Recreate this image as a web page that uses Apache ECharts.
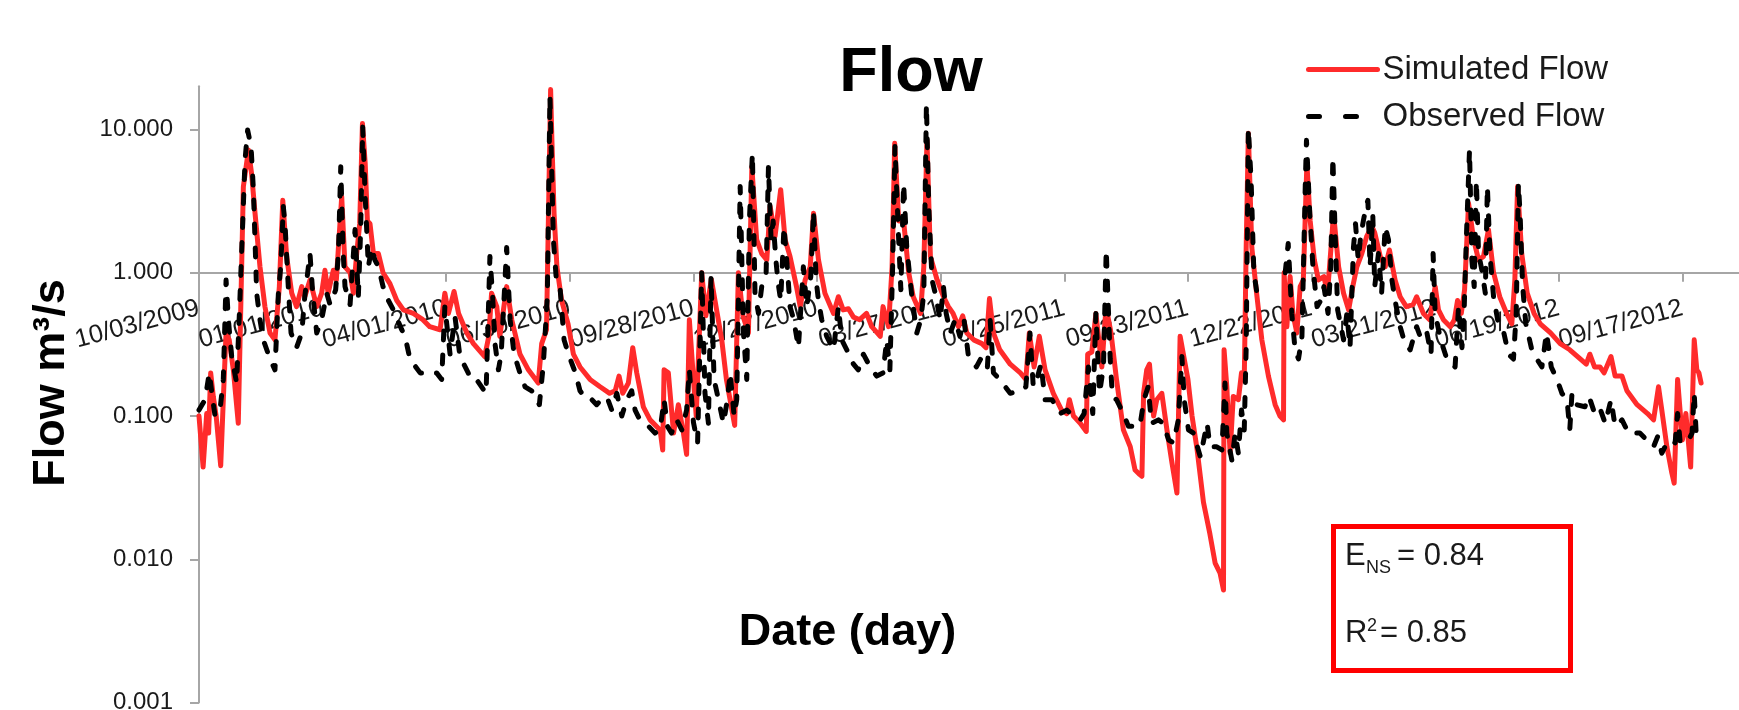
<!DOCTYPE html>
<html><head><meta charset="utf-8">
<script src="https://cdn.jsdelivr.net/npm/echarts@6/dist/echarts.min.js"></script>
<style>html,body{margin:0;padding:0;background:#fff}#c{width:1739px;height:710px}</style>
</head><body><div id="c"></div>
<script>
// x values are days since 10/03/2009
const xTickLabels = ['10/03/2009','01/01/2010','04/01/2010','06/30/2010','09/28/2010','12/27/2010','03/27/2011','06/25/2011','09/23/2011','12/22/2011','03/21/2012','06/19/2012','09/17/2012'];
const yTickValues = [0.001, 0.01, 0.1, 1, 10];

const simulatedFlow = [
[0,0.1],[3,0.044],[5.6,0.104],[7,0.076],[8.5,0.2],[10.4,0.137],[12.5,0.1],[15.8,0.045],[17.7,0.13],[19.7,0.38],
[22,0.34],[25,0.21],[28.6,0.089],[29.9,0.34],[32.3,3.98],[36,7.2],[38.3,4.9],[40.8,2.6],[44.4,1.1],[48,0.58],
[51.7,0.38],[55.3,0.34],[58.5,0.8],[61,3.2],[63.8,1.3],[67.5,0.72],[71,0.58],[74.8,0.8],[77,0.68],[80.8,0.89],
[85.7,0.58],[89.3,0.72],[91.7,1.04],[94,0.72],[97.8,1.04],[100,0.89],[103.9,3.4],[106.3,1.1],[110,1.0],[112.4,0.72],
[114.8,1.36],[117,2.2],[119,11],[121,5.8],[122.6,2.3],[124.5,2.2],[127,1.36],[130.6,1.36],[134,1.0],[139,0.84],
[144,0.64],[148.8,0.55],[156,0.52],[163,0.47],[168,0.42],[175.5,0.40],[179,0.72],[181.6,0.52],[185.7,0.74],[189,0.52],
[195,0.38],[199.8,0.32],[208,0.26],[211,0.36],[213,0.72],[216.8,0.58],[219,0.36],[224,0.8],[227.7,0.47],[233.7,0.27],
[239.8,0.21],[247,0.17],[249.5,0.32],[253,0.4],[256,19],[257,8],[258.5,2.6],[260.6,1.1],[264,0.64],[268.7,0.44],
[272.6,0.27],[277.4,0.22],[284.7,0.18],[292,0.16],[299,0.144],[303,0.15],[305.8,0.19],[308.5,0.144],[312.6,0.17],[315.8,0.3],
[318.7,0.2],[323.5,0.116],[328.4,0.094],[335.7,0.08],[337.6,0.058],[338.6,0.21],[341.7,0.2],[345.5,0.076],[349,0.12],[352.7,0.076],
[355,0.054],[357,0.47],[360,0.18],[362,0.1],[366,1.0],[369,0.5],[373,0.9],[380.6,0.34],[384,0.18],[390,0.086],
[392.7,1.0],[396,0.5],[400,0.38],[402.5,5.5],[406,1.7],[409.7,1.36],[413.4,1.23],[415.8,2.9],[419.4,1.8],[423.5,3.8],
[426.7,1.7],[430.3,1.3],[435,0.8],[437.7,0.58],[441.3,0.89],[445,1.1],[447.4,2.6],[451,1.23],[455.7,0.72],[462,0.52],
[465.5,0.68],[469,0.55],[472.8,0.56],[476.5,0.49],[481,0.47],[486,0.52],[489.8,0.42],[496,0.36],[498,0.58],[502,0.42],
[504.6,1.1],[506.5,8.0],[509.4,2.3],[513,2.3],[516.7,1.0],[520,0.68],[525.3,0.52],[527.7,1.1],[530,8.4],[532.5,1.3],
[537.4,0.89],[542,0.68],[545.6,0.58],[549,0.52],[553,0.42],[556,0.5],[559,0.38],[564,0.34],[570,0.32],[573,0.3],
[575.5,0.66],[578.4,0.38],[583,0.29],[590.6,0.23],[598,0.2],[602,0.18],[604.5,0.38],[608,0.22],[611.8,0.36],[616,0.21],
[622,0.144],[628,0.11],[631.8,0.104],[633.7,0.13],[636.7,0.1],[641.6,0.089],[646,0.078],[647,0.27],[650,0.28],[653,0.52],
[657.3,0.22],[660.4,0.58],[664,0.38],[668,0.18],[673,0.08],[678,0.061],[681.5,0.042],[685,0.039],[686.5,0.038],[687.7,0.144],
[690,0.21],[692,0.23],[695,0.1],[697.3,0.13],[701,0.144],[704.7,0.08],[708.4,0.047],[712,0.029],[714.3,0.36],[717.3,0.25],
[720,0.18],[723,0.1],[726.5,0.06],[731.3,0.025],[736,0.015],[739.8,0.0094],[743.4,0.008],[745.9,0.0061],[746.3,0.29],[748.3,0.16],
[750.7,0.055],[753,0.137],[756.7,0.13],[759,0.2],[761,0.18],[762.4,1.5],[764,9.4],[766.5,1.5],[770,0.72],[773.8,0.34],
[778.6,0.19],[783.5,0.12],[787,0.1],[789.6,0.094],[790,1.0],[792,0.42],[794.4,0.94],[796.4,0.52],[799.3,0.38],[801.7,0.8],
[804,0.89],[806.6,5.8],[809,2.3],[812,1.23],[815,0.89],[819,0.94],[821.6,0.72],[825,1.9],[826,2.6],[829.7,1.1],
[833.3,0.72],[837,0.55],[840,0.8],[843,1.1],[846.6,1.36],[850.2,1.8],[854,2.1],[856,1.9],[860,1.3],[863.6,1.1],
[866.7,1.44],[870.8,0.89],[874.5,0.68],[879,0.58],[884,0.6],[886.5,0.68],[891.4,0.52],[896,0.47],[900,0.8],[902.4,0.55],
[906,0.47],[911,0.42],[914,0.47],[916.3,0.64],[919,0.52],[921.4,0.76],[924.3,3.05],[928,1.7],[931.6,1.23],[935.2,1.3],
[938.8,2.0],[942.5,1.0],[947,0.68],[952,0.52],[955.8,0.44],[958,0.89],[960,4.0],[963,1.36],[967,0.72],[972,0.52],
[976.5,0.44],[984,0.38],[991,0.32],[998,0.29],[1005.6,0.25],[1010,0.23],[1012.6,0.27],[1016,0.22],[1020,0.22],[1023,0.2],
[1028,0.26],[1031,0.19],[1036,0.19],[1039.6,0.15],[1047,0.12],[1054.6,0.104],[1059,0.094],[1062.6,0.16],[1065,0.11],[1068.7,0.061],
[1072.3,0.04],[1074,0.034],[1076.5,0.18],[1080,0.068],[1082.5,0.104],[1086,0.044],[1087,0.1],[1088.6,0.34],[1090.5,0.21],[1092,0.2],
[1093.6,0.17]
];

const observedFlow = [
[0,0.11],[4.4,0.13],[7.5,0.2],[10,0.13],[11.7,0.1],[15.3,0.11],[17.7,0.18],[19.7,0.89],[21.4,0.47],[23.8,0.26],
[27.4,0.17],[29.4,0.52],[31,1.36],[33.5,6.1],[35.4,9.9],[37.9,7.6],[39.6,3.8],[42,0.72],[44.4,0.47],[46.8,0.34],
[51.7,0.25],[55.3,0.21],[57.8,0.72],[59.5,1.1],[61.4,2.9],[62.6,2.2],[65,0.8],[67,0.38],[71,0.3],[74.8,0.38],
[77,0.68],[80.8,1.36],[82.8,0.72],[85.7,0.38],[89.3,0.47],[93,0.72],[95.4,0.6],[99.5,0.76],[101.5,1.36],[103.2,5.5],
[105,1.36],[106.3,0.8],[110,0.6],[113.6,2.0],[116,0.68],[117.7,2.0],[119.2,10.4],[121,3.4],[123.3,1.1],[125.7,1.5],
[128,1.23],[130.6,1.1],[134,0.8],[137.9,0.64],[141.5,0.55],[147.6,0.4],[150,0.36],[153.6,0.25],[161,0.2],[167,0.2],
[173,0.2],[176.7,0.18],[179,0.58],[182.8,0.27],[186.4,0.49],[190,0.26],[196,0.2],[198,0.18],[202,0.18],[209,0.144],
[211.8,1.3],[213.8,0.68],[215.5,0.32],[218,0.21],[220,0.27],[224,1.5],[226.5,0.47],[229.4,0.27],[233.7,0.2],[237.4,0.16],
[242.2,0.15],[247.8,0.12],[250.7,0.23],[253.6,0.68],[255.5,17],[258,1.7],[260,0.94],[262.8,0.8],[265.8,0.34],[269,0.27],
[274,0.2],[277.4,0.15],[282,0.13],[286,0.13],[289.5,0.12],[293,0.13],[297,0.136],[300.5,0.11],[304.2,0.144],[307.8,0.1],
[311.4,0.13],[315,0.15],[317.5,0.11],[321,0.094],[327.2,0.085],[332,0.076],[335.7,0.08],[338.6,0.13],[341,0.085],[344,0.076],
[347.8,0.094],[351.5,0.08],[355,0.11],[357,0.21],[360,0.09],[363,0.065],[366,1.0],[368.4,0.144],[370.9,0.089],[372.8,0.94],
[375,0.18],[378.2,0.13],[381.8,0.089],[384.7,0.13],[386.7,0.2],[389.6,0.1],[391.5,0.13],[394,4.0],[396.4,0.38],[398.8,0.18],
[400.7,2.3],[402.9,6.8],[404.8,0.72],[407.3,0.52],[409.7,0.8],[412.9,1.0],[414.6,5.5],[416.5,1.7],[418,2.3],[420,1.23],
[421.7,0.84],[423.5,0.64],[425.9,2.1],[428.3,1.1],[430.3,0.58],[433,0.47],[436.4,0.3],[440,1.1],[442.5,0.58],[445.4,0.94],
[447.4,2.7],[449.3,0.89],[451,0.64],[453.4,0.47],[457,0.36],[462,0.29],[465.5,0.58],[468,0.34],[471.6,0.29],[476.5,0.23],
[480,0.21],[483.7,0.27],[488.6,0.22],[493.4,0.19],[498,0.2],[500.7,0.34],[503,0.21],[505,1.1],[506.7,7.6],[509.4,1.7],
[511,0.76],[513,4.2],[515.3,1.5],[519,0.68],[522.6,0.38],[525.5,0.47],[527.7,0.72],[529.6,15],[531.3,2.9],[533.7,0.89],
[536,0.72],[539.6,0.47],[542,0.8],[544,0.52],[547,0.38],[550.5,0.47],[554,0.36],[557,0.47],[560,0.27],[566,0.22],
[570,0.26],[574,0.22],[576,0.47],[578.4,0.2],[583,0.18],[590.6,0.144],[598,0.15],[602,0.16],[605,0.38],[607.4,0.16],
[610,0.18],[613,0.23],[616,0.13],[621,0.13],[627,0.104],[631.8,0.11],[636.7,0.1],[641.6,0.094],[644.4,0.104],[647.5,0.22],
[650.7,0.104],[653,0.52],[655.6,0.144],[658.5,0.22],[660.5,1.45],[663.4,0.25],[665,0.137],[668,0.13],[673,0.104],[676.6,0.085],
[685,0.085],[688,0.13],[691,0.16],[693.5,0.089],[698.5,0.094],[702,0.089],[706,0.068],[709.5,0.065],[713,0.094],[715.6,0.26],
[717.3,0.13],[720.4,0.08],[724,0.076],[729,0.052],[734,0.089],[736,0.061],[741,0.061],[744.7,0.058],[747,0.17],[748.3,0.076],
[752,0.049],[754.4,0.076],[756.7,0.055],[759,0.11],[761,0.08],[762.4,0.3],[764,10.2],[766,4.4],[768,1.0],[771.4,0.61],
[773,null],[790.8,1.0],[793,1.6],[795.6,0.52],[798,0.29],[800.5,0.25],[803,0.36],[805.5,4.4],[806.3,8.4],[808.7,2.6],
[811,1.1],[814,0.58],[816.7,0.64],[819,0.8],[822,0.52],[824,1.1],[825.5,6.4],[827.5,1.5],[829,0.55],[833.3,0.34],
[835.7,0.52],[838,0.3],[840.5,1.5],[842,2.2],[844,1.23],[845.8,1.8],[847.7,2.3],[849.7,2.9],[851,3.2],[852.6,1.1],
[854.6,2.5],[856,0.8],[858.7,1.36],[861,0.72],[863.6,2.1],[866,1.7],[868.5,0.89],[870.8,0.64],[874.5,0.42],[878,0.32],
[881.8,0.29],[886.5,0.42],[890,0.34],[894,0.38],[897,0.27],[898.5,1.36],[900,0.52],[904,0.34],[908.5,0.25],[914.5,0.22],
[917,0.58],[919.5,0.3],[921,0.52],[923,2.1],[925,7.2],[926.7,1.23],[928.4,0.8],[930,4.4],[931.6,1.36],[934,1.04],
[936.5,0.72],[938,4.0],[940,1.3],[942.5,0.68],[946,0.44],[950,0.38],[953.4,0.27],[957,0.25],[959,0.52],[960.6,4.2],
[961.8,2.6],[963.7,0.8],[966,0.44],[970,0.3],[974,0.25],[977.7,0.22],[981,0.38],[982.6,0.3],[984.5,0.22],[988.7,0.18],
[992.3,0.144],[996,0.13],[998,0.08],[999.6,0.144],[1003,0.12],[1009,0.116],[1012,0.137],[1015.3,0.11],[1019,0.12],[1023.8,0.089],
[1028,0.13],[1031,0.085],[1036,0.094],[1040.8,0.076],[1049,0.076],[1054,0.068],[1059,0.061],[1062,0.072],[1065,0.055],[1068.7,0.065],
[1072.3,0.068],[1074.7,0.065],[1076.5,0.104],[1078.4,0.065],[1082,0.068],[1084.5,0.068],[1087,0.076],[1088.6,0.144],[1090,0.076],[1093,0.08]
];

const FONT = "'Liberation Sans', Arial, sans-serif";
const AXIS_GREY = '#a6a6a6';
const RED = '#ff2b2b';
const LINE_W = 5;
const chart = echarts.init(document.getElementById('c'));
chart.setOption({
  animation: false,
  backgroundColor: '#ffffff',
  grid: {left: 199, right: 0, top: 86.3, bottom: 7.4, containLabel: false, outerBoundsMode: 'none'},
  legend: {
    orient: 'vertical', left: 1306, top: 53, padding: 0,
    itemWidth: 69, itemHeight: 14, itemGap: 14, selectedMode: false,
    textStyle: {fontFamily: FONT, fontSize: 33, color: '#1a1a1a', lineHeight: 33},
    data: [
      {name: 'Simulated Flow', itemStyle: {opacity: 0}, lineStyle: {width: LINE_W, color: RED, cap: 'round'}},
      {name: 'Observed Flow', itemStyle: {opacity: 0}, lineStyle: {width: LINE_W, color: '#000', type: [11, 26], cap: 'round'}}
    ]
  },
  xAxis: {
    type: 'value', min: 0, max: 1121.2, interval: 90,
    position: 'bottom', offset: -429.9,
    axisLine: {show: true, onZero: false, lineStyle: {color: AXIS_GREY, width: 2}},
    axisTick: {show: true, length: 9, lineStyle: {color: AXIS_GREY, width: 2}},
    splitLine: {show: false},
    axisLabel: {
      rotate: 15, margin: 35, fontFamily: FONT, fontSize: 25.5, color: '#1a1a1a',
      showMinLabel: true, showMaxLabel: false,
      formatter: function (v) {
        const i = Math.round(v / 90);
        return Math.abs(v - i * 90) < 1e-6 && xTickLabels[i] ? xTickLabels[i] : '';
      }
    }
  },
  yAxis: {
    type: 'log', logBase: 10, min: 0.001, max: 20,
    axisLine: {show: true, onZero: false, lineStyle: {color: AXIS_GREY, width: 2}},
    axisTick: {show: true, length: 9, lineStyle: {color: AXIS_GREY, width: 2}, customValues: yTickValues},
    splitLine: {show: false},
    axisLabel: {
      margin: 26, fontFamily: FONT, fontSize: 24, color: '#1a1a1a',
      showMinLabel: true, customValues: yTickValues,
      formatter: function (v) {
        const ok = yTickValues.some(t => Math.abs(v - t) / t < 1e-6);
        return ok ? Number(v).toFixed(3) : '';
      }
    }
  },
  series: [
    {
      name: 'Simulated Flow', type: 'line', data: simulatedFlow,
      symbol: 'none', showSymbol: false, silent: true, z: 2,
      itemStyle: {color: RED},
      lineStyle: {color: RED, width: LINE_W, cap: 'round', join: 'round'}
    },
    {
      name: 'Observed Flow', type: 'line', data: observedFlow,
      symbol: 'none', showSymbol: false, silent: true, z: 3, connectNulls: false,
      itemStyle: {color: '#000000'},
      lineStyle: {color: '#000000', width: LINE_W, type: [9, 15], cap: 'round', join: 'round'}
    }
  ],
  graphic: [
    {type: 'text', x: 911, y: 73.5, style: {text: 'Flow', fontFamily: FONT, fontWeight: 'bold', fontSize: 63, fill: '#000', align: 'center', verticalAlign: 'middle'}},
    {type: 'text', x: 847.5, y: 633, style: {text: 'Date (day)', fontFamily: FONT, fontWeight: 'bold', fontSize: 45, fill: '#000', align: 'center', verticalAlign: 'middle'}},
    {type: 'text', x: 51.7, y: 383, rotation: Math.PI / 2, style: {text: 'Flow m³/s', fontFamily: FONT, fontWeight: 'bold', fontSize: 45, fill: '#000', align: 'center', verticalAlign: 'middle'}},
    {type: 'rect', shape: {x: 1333.5, y: 526.5, width: 237, height: 144}, style: {fill: 'rgba(0,0,0,0)', stroke: '#ff0000', lineWidth: 5}},
    {type: 'text', x: 1345, y: 556.7, style: {text: 'E', fontFamily: FONT, fontSize: 31, fill: '#1a1a1a', align: 'left', verticalAlign: 'middle'}},
    {type: 'text', x: 1366, y: 568.5, style: {text: 'NS', fontFamily: FONT, fontSize: 18, fill: '#1a1a1a', align: 'left', verticalAlign: 'middle'}},
    {type: 'text', x: 1397, y: 556.7, style: {text: '= 0.84', fontFamily: FONT, fontSize: 31, fill: '#1a1a1a', align: 'left', verticalAlign: 'middle'}},
    {type: 'text', x: 1345, y: 633.5, style: {text: 'R', fontFamily: FONT, fontSize: 31, fill: '#1a1a1a', align: 'left', verticalAlign: 'middle'}},
    {type: 'text', x: 1367, y: 626, style: {text: '2', fontFamily: FONT, fontSize: 18, fill: '#1a1a1a', align: 'left', verticalAlign: 'middle'}},
    {type: 'text', x: 1380, y: 633.5, style: {text: '= 0.85', fontFamily: FONT, fontSize: 31, fill: '#1a1a1a', align: 'left', verticalAlign: 'middle'}}
  ]
});
</script>
</body></html>
